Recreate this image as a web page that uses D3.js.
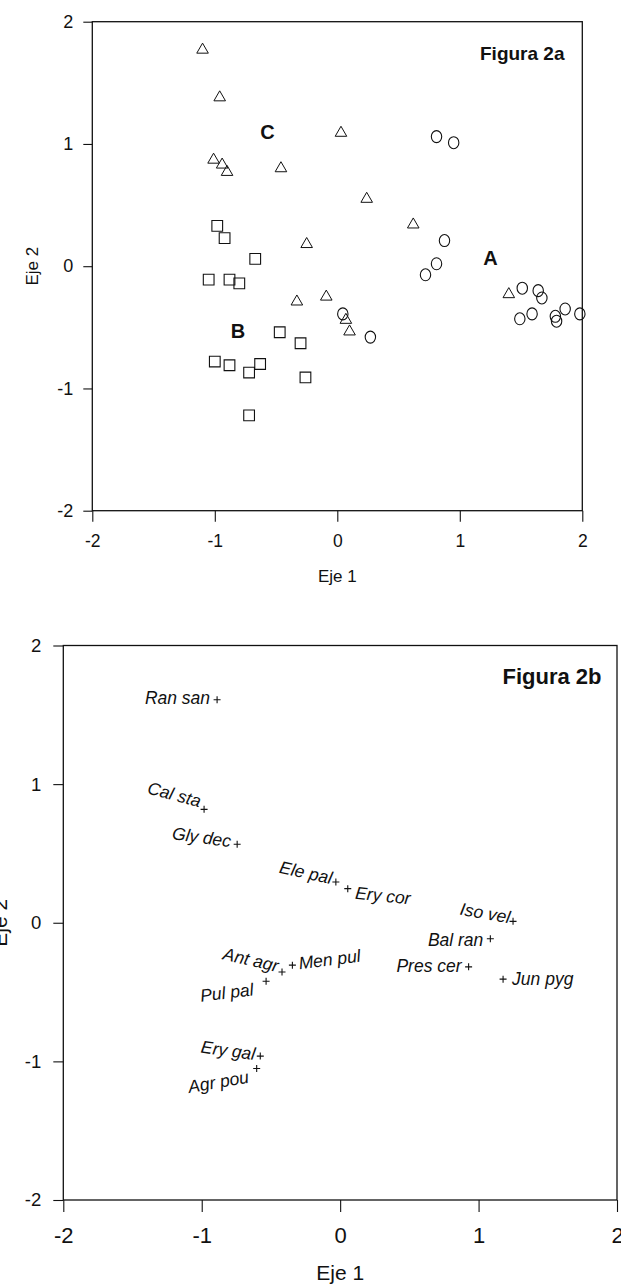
<!DOCTYPE html>
<html>
<head>
<meta charset="utf-8">
<script src="https://cdn.jsdelivr.net/npm/d3@7"></script>
<style>
  body { margin: 0; background: #fff; }
  svg { display: block; }
  text { font-family: "Liberation Sans", Arial, sans-serif; fill: #111; }
</style>
</head>
<body>
<svg id="chart" width="621" height="1285"></svg>
<script>
// shared axis ticks
const tickValues = [-2, -1, 0, 1, 2];
const tickLabels = ["-2", "-1", "0", "1", "2"];

// Figura 2a - samples on axes 1/2, three groups
const groupA = [ // circles
  [0.81, 1.06], [0.95, 1.01], [0.875, 0.21], [0.81, 0.02], [0.72, -0.07],
  [0.045, -0.39], [0.27, -0.58], [1.51, -0.18], [1.64, -0.20], [1.67, -0.26],
  [1.49, -0.43], [1.59, -0.39], [1.78, -0.41], [1.79, -0.45], [1.86, -0.35],
  [1.98, -0.39]
];
const groupB = [ // squares
  [-0.98, 0.33], [-0.92, 0.23], [-0.67, 0.06], [-1.05, -0.11], [-0.88, -0.11],
  [-0.80, -0.14], [-0.47, -0.54], [-0.30, -0.63], [-1.00, -0.78], [-0.88, -0.81],
  [-0.72, -0.87], [-0.63, -0.80], [-0.26, -0.91], [-0.72, -1.22]
];
const groupC = [ // triangles
  [-1.10, 1.77], [-0.96, 1.38], [0.03, 1.09], [-1.01, 0.87], [-0.94, 0.83],
  [-0.90, 0.77], [-0.46, 0.80], [0.24, 0.55], [0.62, 0.34], [-0.25, 0.18],
  [1.40, -0.23], [-0.33, -0.29], [-0.09, -0.25], [0.07, -0.44], [0.10, -0.535]
];
const groupNames = ["A", "B", "C"];
const groupNameX = [1.25, -0.81, -0.57];
const groupNameY = [0.07, -0.53, 1.10];

// Figura 2b - species scores
const species = ["Ran san", "Cal sta", "Gly dec", "Ele pal", "Ery cor", "Iso vel", "Bal ran",
  "Ant agr", "Men pul", "Pres cer", "Jun pyg", "Pul pal", "Ery gal", "Agr pou"];
const speciesX = [-0.889, -0.983, -0.744, -0.031, 0.055, 1.249, 1.085,
  -0.420, -0.345, 0.928, 1.177, -0.535, -0.577, -0.603];
const speciesY = [1.609, 0.818, 0.566, 0.294, 0.246, 0.010, -0.115,
  -0.355, -0.306, -0.318, -0.407, -0.422, -0.962, -1.051];

// where each species name sits next to its cross (px, degrees)
const speciesLabelLayout = [
  { anchor: "end", dx: -7, dy: 4, rot: 0 },
  { anchor: "end", dx: -5, dy: -2, rot: 15 },
  { anchor: "end", dx: -7, dy: 3, rot: 8 },
  { anchor: "end", dx: -5, dy: 2, rot: 12 },
  { anchor: "start", dx: 7, dy: 10, rot: 6 },
  { anchor: "end", dx: -4, dy: 2, rot: 10 },
  { anchor: "end", dx: -7, dy: 7, rot: 0 },
  { anchor: "end", dx: -5, dy: 0, rot: 13 },
  { anchor: "start", dx: 7, dy: 4, rot: -7 },
  { anchor: "end", dx: -7, dy: 5, rot: 0 },
  { anchor: "start", dx: 9, dy: 6, rot: 0 },
  { anchor: "end", dx: -12, dy: 14, rot: -7 },
  { anchor: "end", dx: -6, dy: 4, rot: 8 },
  { anchor: "end", dx: -7, dy: 14, rot: -10 }
];

const svg = d3.select("#chart");

function drawPanel(p) {
  const x = d3.scaleLinear().domain([-2, 2]).range([p.left, p.right]);
  const y = d3.scaleLinear().domain([-2, 2]).range([p.bottom, p.top]);
  const g = svg.append("g");

  // frame
  g.append("rect")
    .attr("x", p.left).attr("y", p.top)
    .attr("width", p.right - p.left).attr("height", p.bottom - p.top)
    .attr("fill", "none").attr("stroke", "#111").attr("stroke-width", 1.3);

  const fmt = (d, i) => tickLabels[i];

  const ax = g.append("g")
    .attr("transform", `translate(0,${p.bottom})`)
    .call(d3.axisBottom(x).tickValues(tickValues).tickFormat(fmt)
      .tickSize(p.xTick).tickPadding(p.xPad));
  ax.select(".domain").remove();
  ax.selectAll("line").attr("stroke", "#111").attr("stroke-width", 1.1);
  ax.selectAll("text").attr("font-size", p.xFont).attr("fill", "#111")
    .style("font-family", "'Liberation Sans', Arial, sans-serif");

  const ay = g.append("g")
    .attr("transform", `translate(${p.left},0)`)
    .call(d3.axisLeft(y).tickValues(tickValues).tickFormat(fmt)
      .tickSize(p.yTick).tickPadding(p.yPad));
  ay.select(".domain").remove();
  ay.selectAll("line").attr("stroke", "#111").attr("stroke-width", 1.1);
  ay.selectAll("text").attr("font-size", p.yFont).attr("fill", "#111")
    .style("font-family", "'Liberation Sans', Arial, sans-serif");

  // axis titles
  g.append("text")
    .attr("x", (p.left + p.right) / 2).attr("y", p.xTitleY)
    .attr("text-anchor", "middle").attr("font-size", p.titleFont)
    .text("Eje 1");
  g.append("text")
    .attr("transform", `translate(${p.yTitleX},${(p.top + p.bottom) / 2}) rotate(-90)`)
    .attr("text-anchor", "middle").attr("font-size", p.titleFont)
    .text("Eje 2");

  // panel name
  g.append("text")
    .attr("x", p.nameX).attr("y", p.nameY)
    .attr("text-anchor", "end").attr("font-size", p.nameFont).attr("font-weight", "bold")
    .text(p.name);

  return { g, x, y };
}

// ---- Figura 2a
const a = drawPanel({
  left: 92.3, right: 582.3, top: 21.7, bottom: 510.7,
  xTick: 11, xPad: 13, xFont: 17.5,
  yTick: 9, yPad: 10, yFont: 18,
  xTitleY: 581.5, yTitleX: 38, titleFont: 17,
  name: "Figura 2a", nameX: 564.5, nameY: 60, nameFont: 19
});

a.g.append("g").selectAll("ellipse").data(groupA).join("ellipse")
  .attr("cx", d => a.x(d[0])).attr("cy", d => a.y(d[1]))
  .attr("rx", 5.2).attr("ry", 6)
  .attr("fill", "none").attr("stroke", "#111").attr("stroke-width", 1.1);

a.g.append("g").selectAll("path").data(groupB).join("path")
  .attr("transform", d => `translate(${a.x(d[0])},${a.y(d[1])})`)
  .attr("d", d3.symbol(d3.symbolSquare, 115))
  .attr("fill", "none").attr("stroke", "#111").attr("stroke-width", 1.1);

a.g.append("g").selectAll("path").data(groupC).join("path")
  .attr("transform", d => `translate(${a.x(d[0])},${a.y(d[1])})`)
  .attr("d", d3.symbol(d3.symbolTriangle, 58))
  .attr("fill", "none").attr("stroke", "#111").attr("stroke-width", 1);

a.g.append("g").selectAll("text").data(groupNames).join("text")
  .attr("x", (d, i) => a.x(groupNameX[i])).attr("y", (d, i) => a.y(groupNameY[i]))
  .attr("dy", "0.36em")
  .attr("text-anchor", "middle").attr("font-size", 20).attr("font-weight", "bold")
  .text(d => d);

// ---- Figura 2b
const b = drawPanel({
  left: 63.3, right: 617, top: 645.5, bottom: 1200,
  xTick: 12, xPad: 15, xFont: 22,
  yTick: 10, yPad: 12, yFont: 18.5,
  xTitleY: 1280, yTitleX: 7, titleFont: 21,
  name: "Figura 2b", nameX: 601.5, nameY: 683.5, nameFont: 22
});

const cross = "M-3.5,0H3.5M0,-3.5V3.5";
const sp = b.g.append("g").selectAll("g").data(species).join("g")
  .attr("transform", (d, i) => `translate(${b.x(speciesX[i])},${b.y(speciesY[i])})`);

sp.append("path").attr("d", cross)
  .attr("stroke", "#111").attr("stroke-width", 1.1).attr("fill", "none");

sp.append("text")
  .attr("transform", (d, i) => {
    const l = speciesLabelLayout[i];
    return `translate(${l.dx},${l.dy}) rotate(${l.rot})`;
  })
  .attr("text-anchor", (d, i) => speciesLabelLayout[i].anchor)
  .attr("font-size", 17.5).attr("font-style", "italic")
  .text(d => d);
</script>
</body>
</html>
